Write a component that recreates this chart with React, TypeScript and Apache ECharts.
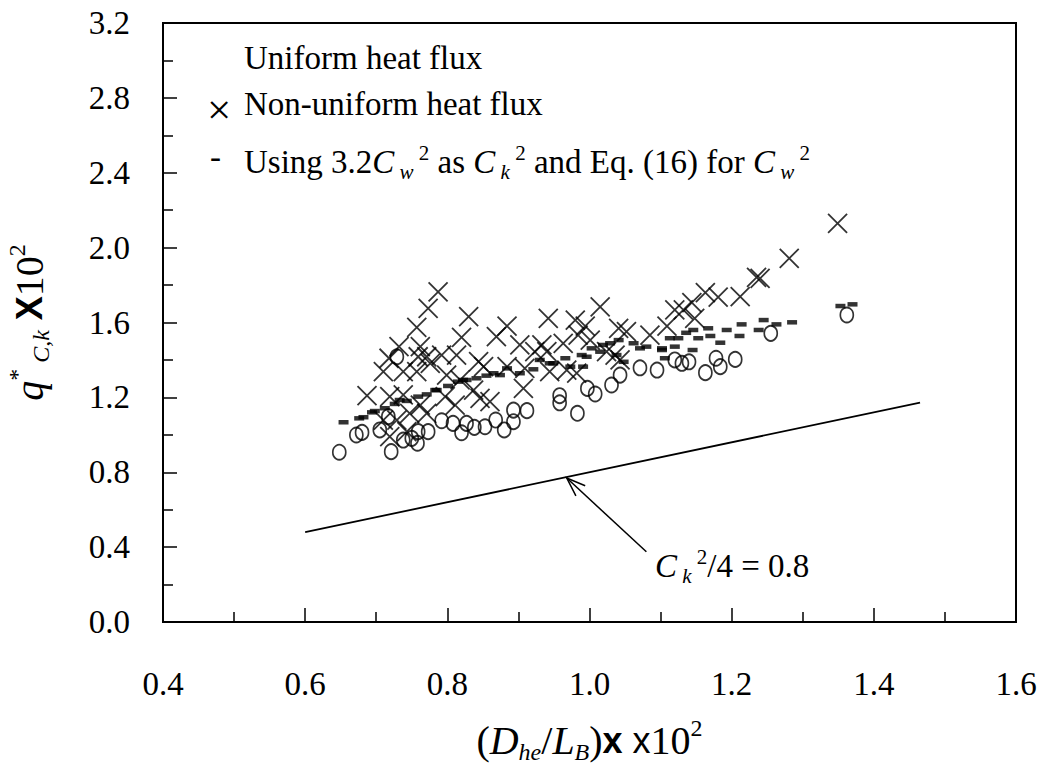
import React, { useEffect, useRef } from "react";
import * as echarts from "echarts";

// ---- data ----
const uniformX = [0.648, 0.672, 0.680, 0.705, 0.721, 0.717, 0.729, 0.738, 0.750, 0.758, 0.759, 0.773, 0.792, 0.808, 0.820, 0.827, 0.838, 0.853, 0.868, 0.880, 0.893, 0.893, 0.912, 0.958, 0.958, 0.983, 0.997, 1.008, 1.031, 1.043, 1.071, 1.095, 1.120, 1.362, 1.255, 1.205, 1.184, 1.178, 1.163, 1.140, 1.130];
const uniformY = [0.907, 0.999, 1.013, 1.026, 0.910, 1.097, 1.417, 0.972, 0.981, 0.955, 1.017, 1.017, 1.075, 1.061, 1.011, 1.061, 1.040, 1.043, 1.079, 1.026, 1.070, 1.132, 1.129, 1.209, 1.171, 1.115, 1.248, 1.218, 1.266, 1.319, 1.358, 1.346, 1.400, 1.640, 1.542, 1.403, 1.364, 1.409, 1.332, 1.390, 1.382];

const nonUniformX = [0.787, 0.773, 0.830, 0.757, 0.820, 0.869, 0.732, 0.762, 0.718, 0.759, 0.771, 0.792, 0.813, 0.710, 0.738, 0.757, 0.776, 0.799, 0.844, 0.851, 0.818, 0.687, 0.719, 0.738, 0.797, 0.837, 0.860, 0.811, 0.762, 0.771, 0.710, 0.729, 0.747, 0.719, 0.743, 0.846, 0.884, 0.942, 1.015, 0.980, 0.994, 1.041, 1.052, 1.085, 1.109, 1.120, 0.902, 0.933, 0.940, 0.923, 0.963, 0.984, 1.001, 1.024, 1.036, 1.043, 0.944, 0.968, 0.982, 0.909, 0.907, 0.884, 1.349, 1.281, 1.235, 1.240, 1.212, 1.181, 1.163, 1.144, 1.148, 1.132];
const nonUniformY = [1.764, 1.676, 1.631, 1.574, 1.521, 1.524, 1.471, 1.471, 1.409, 1.417, 1.417, 1.426, 1.426, 1.337, 1.337, 1.337, 1.382, 1.319, 1.391, 1.364, 1.293, 1.209, 1.204, 1.213, 1.204, 1.239, 1.177, 1.159, 1.159, 1.115, 1.079, 1.079, 1.115, 0.990, 1.017, 1.195, 1.581, 1.622, 1.684, 1.613, 1.581, 1.569, 1.551, 1.533, 1.581, 1.667, 1.480, 1.480, 1.444, 1.444, 1.489, 1.533, 1.506, 1.444, 1.426, 1.400, 1.337, 1.346, 1.329, 1.355, 1.248, 1.364, 2.130, 1.943, 1.841, 1.836, 1.738, 1.735, 1.759, 1.706, 1.622, 1.667];

const modelX = [0.654, 0.676, 0.694, 0.712, 0.726, 0.743, 0.759, 0.771, 0.785, 0.801, 0.815, 0.827, 0.841, 0.855, 0.865, 0.884, 0.902, 0.921, 0.930, 0.944, 0.966, 0.973, 0.989, 0.991, 1.003, 1.015, 1.019, 1.029, 1.041, 1.038, 1.048, 1.062, 1.071, 1.080, 1.102, 1.106, 1.113, 1.120, 1.353, 1.370, 1.285, 1.263, 1.245, 1.238, 1.214, 1.211, 1.193, 1.184, 1.170, 1.167, 1.153, 1.146, 1.145, 1.136, 0.682, 0.698, 0.733, 0.783, 0.822, 0.874, 0.949, 0.996, 1.102, 1.125];
const modelY = [1.067, 1.088, 1.120, 1.142, 1.165, 1.181, 1.204, 1.216, 1.239, 1.261, 1.284, 1.293, 1.302, 1.316, 1.329, 1.355, 1.329, 1.350, 1.400, 1.382, 1.409, 1.364, 1.426, 1.364, 1.462, 1.444, 1.480, 1.489, 1.506, 1.426, 1.390, 1.489, 1.462, 1.471, 1.462, 1.409, 1.516, 1.471, 1.688, 1.697, 1.601, 1.590, 1.613, 1.560, 1.590, 1.528, 1.560, 1.492, 1.528, 1.569, 1.516, 1.560, 1.453, 1.545, 1.094, 1.127, 1.186, 1.239, 1.293, 1.319, 1.382, 1.417, 1.453, 1.516];

const refLineX = [0.6, 1.465];
const refLineY = [0.48, 1.172];

const arrowFrom = [1.08, 0.375];
const arrowTo = [0.968, 0.769];

const FONT = '"Liberation Serif", "Times New Roman", serif';
const SANS = '"Liberation Sans", Arial, sans-serif';

function richStyles(size: number, small: number, lh: number) {
  return {
    n: { fontFamily: FONT, fontSize: size, color: "#000", lineHeight: lh },
    i: { fontFamily: FONT, fontSize: size, fontStyle: "italic", color: "#000", lineHeight: lh },
    sup: { fontFamily: FONT, fontSize: small, color: "#000", verticalAlign: "top", lineHeight: small },
    sub: { fontFamily: FONT, fontSize: small, fontStyle: "italic", color: "#000", verticalAlign: "bottom", lineHeight: small },
    b: { fontFamily: SANS, fontSize: size - 4, fontWeight: "bold", color: "#000", lineHeight: lh },
    s: { fontFamily: SANS, fontSize: size - 4, color: "#000", lineHeight: lh },
    big: { fontFamily: FONT, fontSize: size + 10, color: "#000", lineHeight: lh },
  };
}

export default function App() {
  const ref = useRef<HTMLDivElement>(null);

  useEffect(() => {
    const chart = echarts.init(ref.current!, null, { renderer: "svg" });
    const titleRich = richStyles(40, 24, 48);

    const axisCommon = {
      type: "value" as const,
      axisLine: { show: true, lineStyle: { color: "#000", width: 2 } },
      axisTick: { show: true, inside: true, length: 14, lineStyle: { color: "#000", width: 1.5 } },
      minorTick: { show: true, splitNumber: 2, length: 10, lineStyle: { color: "#000", width: 1.5 } },
      splitLine: { show: false },
      minorSplitLine: { show: false },
    };

    chart.setOption({
      animation: false,
      backgroundColor: "#fff",
      grid: {
        left: 163,
        right: 28,
        top: 23,
        bottom: 142,
        containLabel: false,
        outerBoundsMode: "none",
        show: true,
        borderColor: "#000",
        borderWidth: 2,
        backgroundColor: "transparent",
      },
      xAxis: {
        ...axisCommon,
        min: 0.4,
        max: 1.6,
        interval: 0.2,
        axisLabel: {
          fontFamily: FONT,
          fontSize: 33,
          color: "#000",
          margin: 45,
          formatter: (v: number) => v.toFixed(1),
        },
        name: "{n|(}{i|D}{sub|he}{n|/}{i|L}{sub|B}{n|)}{b|x}{n| }{s|x}{n|10}{sup|2}",
        nameLocation: "middle",
        nameGap: 94,
        nameTextStyle: { rich: titleRich },
      },
      yAxis: {
        ...axisCommon,
        min: 0,
        max: 3.2,
        interval: 0.4,
        axisLabel: {
          fontFamily: FONT,
          fontSize: 33,
          color: "#000",
          margin: 33,
          padding: [6, 0, 0, 0],
          formatter: (v: number) => v.toFixed(1),
        },
        name: "{i|q}{sup|*}{sub| C,k}{n| }{b|X}{n|10}{sup|2}",
        nameLocation: "middle",
        nameRotate: 90,
        nameGap: 110,
        nameTextStyle: { rich: titleRich },
      },
      series: [
        {
          type: "line",
          data: refLineX.map((x, i) => [x, refLineY[i]]),
          symbol: "none",
          lineStyle: { color: "#000", width: 1.8 },
          z: 1,
        },
        {
          type: "scatter",
          data: uniformX.map((x, i) => [x, uniformY[i]]),
          symbol: "circle",
          symbolSize: [13, 15],
          itemStyle: { color: "rgba(0,0,0,0)", borderColor: "#000", borderWidth: 1.8 },
          z: 2,
        },
        {
          type: "scatter",
          data: nonUniformX.map((x, i) => [x, nonUniformY[i]]),
          symbol: "path://M0,0L10,10M10,0L0,10",
          symbolSize: 19,
          itemStyle: { color: "rgba(0,0,0,0)", borderColor: "#000", borderWidth: 1.8 },
          z: 3,
        },
        {
          type: "scatter",
          data: modelX.map((x, i) => [x, modelY[i]]),
          symbol: "rect",
          symbolSize: [10, 4.5],
          itemStyle: { color: "#000" },
          z: 4,
        },
      ],
    });

    const tail = chart.convertToPixel({ gridIndex: 0 }, arrowFrom) as number[];
    const tip = chart.convertToPixel({ gridIndex: 0 }, arrowTo) as number[];
    const ang = Math.atan2(tail[1] - tip[1], tail[0] - tip[0]);
    const wl = 20;
    const wa = (20 * Math.PI) / 180;
    const w1 = [tip[0] + wl * Math.cos(ang + wa), tip[1] + wl * Math.sin(ang + wa)];
    const w2 = [tip[0] + wl * Math.cos(ang - wa), tip[1] + wl * Math.sin(ang - wa)];

    const legendRich = richStyles(33, 21, 40);

    chart.setOption({
      graphic: {
        elements: [
          {
            type: "text",
            left: 244,
            top: 61 - 20,
            style: { text: "{n|Uniform heat flux}", rich: legendRich },
          },
          {
            type: "text",
            left: 207,
            top: 108 - 20,
            style: { text: "{big|×}", rich: legendRich },
          },
          {
            type: "text",
            left: 244,
            top: 107 - 20,
            style: { text: "{n|Non-uniform heat flux}", rich: legendRich },
          },
          {
            type: "text",
            left: 210,
            top: 160 - 20,
            style: { text: "{n|-}", rich: legendRich },
          },
          {
            type: "text",
            left: 244,
            top: 162 - 20,
            style: {
              text: "{n|Using 3.2}{i|C}{sub| w}{sup| 2}{n| as }{i|C}{sub| k}{sup| 2}{n| and Eq. (16) for }{i|C}{sub| w}{sup| 2}",
              rich: legendRich,
            },
          },
          {
            type: "text",
            left: 655,
            top: 566 - 20,
            style: { text: "{i|C}{sub| k}{sup| 2}{n|/4 = 0.8}", rich: legendRich },
          },
          {
            type: "line",
            shape: { x1: tail[0], y1: tail[1], x2: tip[0], y2: tip[1] },
            style: { stroke: "#000", lineWidth: 1.5 },
          },
          {
            type: "polyline",
            shape: { points: [w1, tip, w2] },
            style: { stroke: "#000", lineWidth: 1.5, fill: null },
          },
        ],
      },
    });

    return () => chart.dispose();
  }, []);

  return (
    <div
      ref={ref}
      style={{ position: "absolute", left: 0, top: 0, width: 1044, height: 764, background: "#fff" }}
    />
  );
}
